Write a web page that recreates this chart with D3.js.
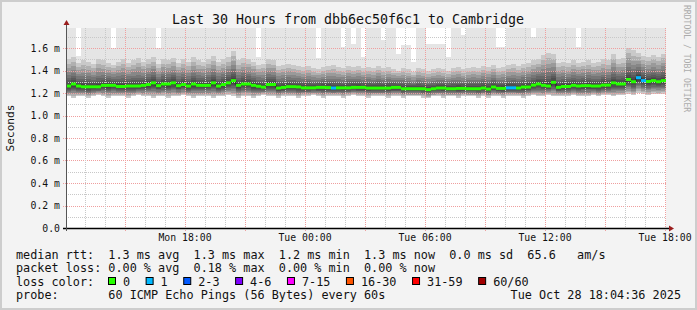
<!DOCTYPE html>
<html>
<head>
<meta charset="utf-8">
<script src="https://cdn.jsdelivr.net/npm/d3@7"></script>
<style>
  body { margin: 0; background: #f3f3f3; }
  text { font-family: "DejaVu Sans Mono", monospace; fill: #111; white-space: pre; }
</style>
</head>
<body>
<div id="chart"></div>
<script>
var title = "Last 30 Hours from dbb6ec50f6c1 to Cambridge";
var yLabel = "Seconds";
var credit = "RRDTOOL / TOBI OETIKER";
var endTime = new Date(Date.UTC(2025, 9, 28, 18, 3));
var stepMinutes = 15;

// median rtt per 15 min step (ms)
var median = [
  1.262,1.280,1.262,1.255,1.255,1.255,1.255,1.268,1.268,1.268,
  1.258,1.258,1.262,1.262,1.262,1.268,1.275,1.290,1.265,1.280,
  1.280,1.290,1.265,1.275,1.262,1.280,1.268,1.268,1.268,1.290,
  1.262,1.275,1.290,1.310,1.268,1.280,1.280,1.268,1.260,1.252,
  1.275,1.275,1.244,1.250,1.256,1.256,1.254,1.246,1.246,1.246,
  1.250,1.250,1.248,1.244,1.246,1.246,1.246,1.250,1.250,1.250,
  1.244,1.244,1.244,1.244,1.244,1.250,1.250,1.238,1.238,1.238,
  1.238,1.238,1.230,1.238,1.244,1.244,1.238,1.238,1.241,1.241,
  1.238,1.238,1.238,1.244,1.235,1.253,1.241,1.241,1.246,1.246,
  1.244,1.253,1.253,1.270,1.280,1.268,1.262,1.295,1.250,1.258,
  1.258,1.268,1.262,1.265,1.265,1.262,1.262,1.270,1.270,1.290,
  1.280,1.280,1.320,1.300,1.336,1.310,1.302,1.310,1.300,1.310
];

// lost pings (of 60) per step
var lossCount = [
  0,0,0,0,0,0,0,0,0,0, 0,0,0,0,0,0,0,0,0,0,
  0,0,0,0,0,0,0,0,0,0, 0,0,0,0,0,0,0,0,0,0,
  0,0,0,0,0,0,0,0,0,0, 0,0,0,1,0,0,0,0,0,0,
  0,0,0,0,0,0,0,0,0,0, 0,0,0,0,0,0,0,0,0,0,
  0,0,0,0,0,0,0,0,1,1, 0,0,0,0,0,0,0,0,0,0,
  0,0,0,0,0,0,0,0,0,0, 0,0,0,0,1,1,0,0,0,0
];

// slowest ping per step (ms)
var maxRtt = [
  1.90,1.90,1.53,1.90,1.90,1.90,1.90,1.90,1.90,1.60,
  1.90,1.90,1.90,1.90,1.90,1.90,1.90,1.90,1.60,1.90,
  1.90,1.90,1.90,1.90,1.90,1.90,1.90,1.90,1.90,1.90,
  1.90,1.90,1.90,1.90,1.90,1.90,1.90,1.90,1.52,1.90,
  1.90,1.90,1.90,1.90,1.90,1.90,1.90,1.90,1.90,1.90,
  1.51,1.90,1.90,1.90,1.90,1.61,1.90,1.64,1.90,1.52,
  1.90,1.90,1.90,1.67,1.90,1.90,1.55,1.63,1.63,1.48,
  1.90,1.90,1.64,1.64,1.64,1.64,1.52,1.90,1.90,1.72,
  1.90,1.90,1.90,1.90,1.90,1.90,1.61,1.61,1.90,1.90,
  1.90,1.90,1.90,1.70,1.90,1.90,1.90,1.90,1.90,1.90,
  1.90,1.90,1.61,1.90,1.90,1.90,1.90,1.90,1.90,1.90,
  1.90,1.90,1.90,1.90,1.90,1.90,1.90,1.90,1.90,1.90
];

// upper edge of the dense smoke (ms)
var hiRtt = [
  1.50,1.52,1.47,1.49,1.48,1.46,1.50,1.49,1.47,1.45,
  1.48,1.50,1.47,1.49,1.51,1.48,1.50,1.52,1.46,1.50,
  1.49,1.51,1.47,1.50,1.48,1.52,1.49,1.48,1.50,1.53,
  1.48,1.50,1.52,1.57,1.49,1.51,1.50,1.48,1.45,1.46,
  1.50,1.49,1.44,1.45,1.46,1.45,1.44,1.43,1.44,1.42,
  1.41,1.43,1.44,1.45,1.43,1.42,1.44,1.43,1.44,1.42,
  1.43,1.42,1.44,1.42,1.43,1.41,1.40,1.42,1.41,1.39,
  1.42,1.41,1.40,1.41,1.42,1.41,1.40,1.42,1.43,1.41,
  1.42,1.43,1.42,1.44,1.43,1.45,1.42,1.43,1.45,1.46,
  1.44,1.46,1.47,1.49,1.50,1.54,1.56,1.55,1.47,1.48,
  1.47,1.49,1.47,1.48,1.49,1.47,1.48,1.50,1.49,1.55,
  1.50,1.51,1.60,1.58,1.56,1.53,1.52,1.54,1.52,1.55
];

// fastest ping per step (ms)
var loRtt = [
  1.17,1.16,1.17,1.17,1.16,1.17,1.18,1.17,1.16,1.17,
  1.17,1.17,1.16,1.17,1.18,1.17,1.17,1.16,1.17,1.17,
  1.16,1.17,1.17,1.18,1.17,1.16,1.17,1.17,1.17,1.16,
  1.17,1.17,1.18,1.17,1.16,1.17,1.17,1.16,1.17,1.18,
  1.17,1.17,1.16,1.17,1.17,1.17,1.16,1.17,1.17,1.18,
  1.17,1.16,1.17,1.17,1.17,1.16,1.17,1.18,1.17,1.17,
  1.16,1.17,1.17,1.17,1.16,1.17,1.17,1.16,1.17,1.17,
  1.17,1.16,1.16,1.17,1.17,1.16,1.17,1.17,1.16,1.17,
  1.17,1.17,1.16,1.17,1.16,1.17,1.17,1.16,1.17,1.17,
  1.17,1.16,1.17,1.18,1.17,1.17,1.18,1.17,1.17,1.17,
  1.17,1.18,1.17,1.17,1.17,1.18,1.17,1.18,1.18,1.17,
  1.18,1.18,1.19,1.18,1.20,1.19,1.18,1.19,1.19,1.19
];

var yTicks = [0, 0.2, 0.4, 0.6, 0.8, 1.0, 1.2, 1.4, 1.6];
var lossLabels = ["0", "1", "2-3", "4-6", "7-15", "16-30", "31-59", "60/60"];
var lossUpper = [0, 1, 3, 6, 15, 30, 59, 60];
var lossColors = ["#26ff00", "#00b8ff", "#0059ff", "#7e00ff", "#ff00ff", "#ff5500", "#ff0000", "#a10000"];
var rttLine = "median rtt:  1.3 ms avg  1.3 ms max  1.2 ms min  1.3 ms now  0.0 ms sd  65.6   am/s";
var lossLine = "packet loss: 0.00 % avg  0.18 % max  0.00 % min  0.00 % now";
var probeLine = "probe:       60 ICMP Echo Pings (56 Bytes) every 60s";
var stampLine = "Tue Oct 28 18:04:36 2025";

function init() {
  var w = 697, h = 310;
  var left = 66, right = 666, top = 28, bottom = 228;
  var charW = 7.12;

  var svg = d3.select("#chart").append("svg")
    .attr("width", w)
    .attr("height", h);

  svg.append("rect").attr("width", w).attr("height", h).attr("fill", "#cdcdcd");
  svg.append("rect").attr("x", 2).attr("y", 2).attr("width", w - 4).attr("height", h - 4).attr("fill", "#f3f3f3");

  var startTime = d3.utcHour.offset(endTime, -30);
  var x = d3.scaleUtc().domain([startTime, endTime]).range([left, right]);
  var y = d3.scaleLinear().domain([0, 200 / 112.5]).range([bottom, top]);

  svg.append("defs").append("clipPath").attr("id", "plot")
    .append("rect").attr("x", left).attr("y", top).attr("width", right - left).attr("height", bottom - top);

  svg.append("rect")
    .attr("x", left).attr("y", top)
    .attr("width", right - left).attr("height", bottom - top)
    .attr("fill", "#fff");

  var cols = median.map(function (m, i) {
    return {
      t0: d3.utcMinute.offset(startTime, i * stepMinutes),
      t1: d3.utcMinute.offset(startTime, (i + 1) * stepMinutes),
      m: m, hi: hiRtt[i], lo: loRtt[i], max: maxRtt[i], loss: lossCount[i]
    };
  });

  var smoke = svg.append("g").attr("clip-path", "url(#plot)").attr("shape-rendering", "crispEdges");

  smoke.selectAll("rect.base").data(cols).enter().append("rect")
    .attr("class", "base")
    .attr("x", function (d) { return x(d.t0); })
    .attr("width", function (d) { return x(d.t1) - x(d.t0); })
    .attr("y", function (d) { return y(d.max); })
    .attr("height", function (d) { return y(d.lo) - y(d.max); })
    .attr("fill", "#e5e5e5");

  // denser grey bands toward the median
  var levels = d3.range(12, 0, -1).map(function (k) { return k / 12; });
  levels.forEach(function (f) {
    var up = function (d) { return y(d.m + (d.hi - d.m) * Math.pow(f, 2.2)); };
    var dn = function (d) { return y(d.m - (d.m - d.lo) * Math.pow(f, 1.5)); };
    smoke.selectAll(null).data(cols).enter().append("rect")
      .attr("x", function (d) { return x(d.t0); })
      .attr("width", function (d) { return x(d.t1) - x(d.t0); })
      .attr("y", up)
      .attr("height", function (d) { return dn(d) - up(d); })
      .attr("fill", "#000")
      .attr("fill-opacity", 0.12);
  });

  // grid
  var grid = svg.append("g").attr("shape-rendering", "crispEdges");
  var minorY = d3.range(1, 18).map(function (k) { return k / 10; });
  grid.selectAll(null).data(minorY.filter(function (v, k) { return k % 2 === 0; })).enter().append("line")
    .attr("x1", left).attr("x2", right)
    .attr("y1", function (d) { return Math.round(y(d)) + 0.5; })
    .attr("y2", function (d) { return Math.round(y(d)) + 0.5; })
    .attr("stroke", "#c8c8c8").attr("stroke-dasharray", "1,1");
  grid.selectAll(null).data(yTicks.slice(1)).enter().append("line")
    .attr("x1", left - 3).attr("x2", right)
    .attr("y1", function (d) { return Math.round(y(d)) + 0.5; })
    .attr("y2", function (d) { return Math.round(y(d)) + 0.5; })
    .attr("stroke", "#ef9f9f").attr("stroke-dasharray", "1,1");

  var hours = d3.utcHour.range(startTime, endTime);
  grid.selectAll(null).data(hours.filter(function (t) { return t.getUTCHours() % 3 !== 0; })).enter().append("line")
    .attr("x1", function (d) { return Math.round(x(d)) + 0.5; })
    .attr("x2", function (d) { return Math.round(x(d)) + 0.5; })
    .attr("y1", top).attr("y2", bottom + 2)
    .attr("stroke", "#c8c8c8").attr("stroke-dasharray", "1,1");
  grid.selectAll(null).data(hours.filter(function (t) { return t.getUTCHours() % 3 === 0; })).enter().append("line")
    .attr("x1", function (d) { return Math.round(x(d)) + 0.5; })
    .attr("x2", function (d) { return Math.round(x(d)) + 0.5; })
    .attr("y1", top).attr("y2", bottom + 3)
    .attr("stroke", "#ef9f9f").attr("stroke-dasharray", "1,1");

  // median line with loss colour bands
  var line = d3.line()
    .x(function (d, i) { return i === cols.length ? x(cols[i - 1].t1) : x(d.t0); })
    .y(function (d) { return y(d.m); })
    .curve(d3.curveStepAfter);
  svg.append("path")
    .datum(cols.concat([cols[cols.length - 1]]))
    .attr("d", line)
    .attr("fill", "none")
    .attr("stroke", "#202020")
    .attr("stroke-width", 1);

  function lossIndex(c) {
    for (var k = 0; k < lossUpper.length; k++) { if (c <= lossUpper[k]) return k; }
    return lossUpper.length - 1;
  }
  svg.append("g").selectAll("rect").data(cols).enter().append("rect")
    .attr("x", function (d) { return x(d.t0); })
    .attr("width", function (d) { return x(d.t1) - x(d.t0); })
    .attr("y", function (d) { return y(d.m) - 1.5; })
    .attr("height", 3)
    .attr("fill", function (d) { return lossColors[lossIndex(d.loss)]; });

  // axes
  svg.append("line")
    .attr("x1", left - 3).attr("x2", right + 3)
    .attr("y1", bottom + 0.5).attr("y2", bottom + 0.5)
    .attr("stroke", "#000").attr("stroke-width", 1.4);
  svg.append("path")
    .attr("d", "M" + (right + 3) + "," + (bottom - 2.5) + "L" + (right + 8) + "," + (bottom + 0.5) + "L" + (right + 3) + "," + (bottom + 3.5) + "Z")
    .attr("fill", "#9a1d1d");
  svg.append("line")
    .attr("x1", left + 0.5).attr("x2", left + 0.5)
    .attr("y1", bottom + 3).attr("y2", top - 4)
    .attr("stroke", "#555").attr("stroke-width", 1);
  svg.append("path")
    .attr("d", "M" + (left - 2.5) + "," + (top - 3) + "L" + (left + 0.5) + "," + (top - 8) + "L" + (left + 3.5) + "," + (top - 3) + "Z")
    .attr("fill", "#9a1d1d");

  var fmtY = function (v) { return v === 0 ? "0.0" : d3.format(".1f")(v) + " m"; };
  svg.append("g").selectAll("text").data(yTicks).enter().append("text")
    .attr("x", left - 6)
    .attr("y", function (d) { return y(d) + 3.5; })
    .attr("text-anchor", "end")
    .attr("font-size", "9.8px")
    .text(fmtY);

  var fmtX = d3.utcFormat("%a %H:%M");
  svg.append("g").selectAll("text").data(hours.filter(function (t) { return t.getUTCHours() % 6 === 0; }))
    .enter().append("text")
    .attr("x", function (d) { return x(d); })
    .attr("y", bottom + 13)
    .attr("text-anchor", "middle")
    .attr("font-size", "9.8px")
    .text(fmtX);

  svg.append("text")
    .attr("x", 348).attr("y", 23.5)
    .attr("text-anchor", "middle")
    .attr("font-size", "13.3px")
    .text(title);

  svg.append("text")
    .attr("transform", "translate(14," + (top + bottom) / 2 + ") rotate(-90)")
    .attr("text-anchor", "middle")
    .attr("font-size", "11.2px")
    .text(yLabel);

  svg.append("text")
    .attr("transform", "translate(684,5) rotate(90)")
    .attr("font-size", "8.1px")
    .style("fill", "#ababab")
    .text(credit);

  // legend
  var legend = svg.append("g").attr("font-size", "11.8px");
  legend.append("text").attr("x", 16).attr("y", 258.5).text(rttLine);
  legend.append("text").attr("x", 16).attr("y", 272).text(lossLine);
  legend.append("text").attr("x", 16).attr("y", 285.5).text("loss color:");
  legend.append("text").attr("x", 16).attr("y", 299).text(probeLine);
  legend.append("text").attr("x", 681).attr("y", 299).attr("text-anchor", "end").text(stampLine);

  var bx = 108;
  lossLabels.forEach(function (lab, k) {
    legend.append("rect")
      .attr("x", bx + 0.5).attr("y", 277.5)
      .attr("width", 7).attr("height", 7)
      .attr("fill", lossColors[k])
      .attr("stroke", "#000").attr("stroke-width", 1);
    legend.append("text").attr("x", bx + 15).attr("y", 285.5).text(lab);
    bx += charW * lab.length + 30.5;
  });
}

window.onload = init;
</script>
</body>
</html>
